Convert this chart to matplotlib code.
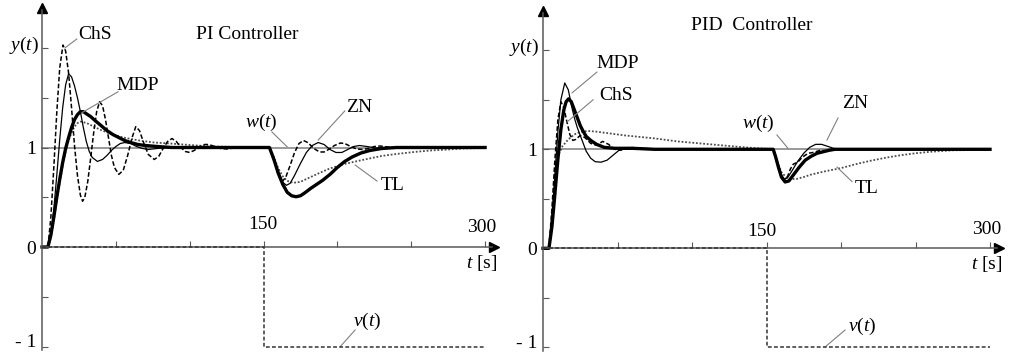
import matplotlib
matplotlib.use("Agg")
import matplotlib.pyplot as plt

plt.rcParams['font.family'] = 'Liberation Serif'
plt.rcParams['mathtext.fontset'] = 'custom'
plt.rcParams['mathtext.rm'] = 'Liberation Serif'
plt.rcParams['mathtext.it'] = 'Liberation Serif:italic'

W, H = 1011, 352

# ---------------- PI controller responses ----------------
pi_zn_t = [0, 4, 6, 8, 10, 12, 14, 16, 18, 20, 22, 24, 26, 28, 30, 32, 34, 37.5, 41, 44, 47, 50,
           53, 56, 60, 64, 68, 72, 78, 85, 154, 157, 160, 163, 165.5, 168, 171, 175, 179, 183,
           187, 191, 195, 199, 203, 207, 211, 215, 220, 226, 232, 300]
pi_zn_y = [0, 0, 0.12, 0.38, 0.72, 1.08, 1.4, 1.63, 1.74, 1.71, 1.62, 1.5, 1.36, 1.2, 1.06, 0.96, 0.9, 0.86, 0.88, 0.92, 0.97, 1.01,
           1.04, 1.05, 1.04, 1.01, 0.99, 0.98, 0.99, 1.0, 1.0, 0.9, 0.76, 0.65, 0.62, 0.64, 0.72, 0.84, 0.95, 1.02,
           1.05, 1.03, 0.98, 0.95, 0.95, 0.98, 1.01, 1.02, 1.01, 0.995, 1.0, 1.0]

pi_chs_t = [0, 4, 6, 8, 10, 12, 14.2, 16, 18, 20, 22, 24, 26, 27.5, 29, 31, 33, 35, 37, 39, 41, 43,
            45, 47, 49, 52, 55, 58, 61, 63.5, 66, 69, 72, 76, 79, 82, 85, 88, 91, 94, 97, 100,
            103, 107, 110, 113, 117, 121, 125, 130, 135, 140, 154, 157, 160, 162.5, 165, 168, 171,
            174, 177, 180, 184, 188, 191, 194, 198, 202, 205, 209, 213, 217, 221, 225, 229, 234,
            240, 250, 300]
pi_chs_y = [0, 0, 0.3, 0.8, 1.35, 1.8, 2.03, 1.97, 1.75, 1.4, 1.02, 0.72, 0.52, 0.46, 0.5, 0.66, 0.9, 1.15, 1.36, 1.46, 1.42, 1.28,
            1.1, 0.92, 0.8, 0.73, 0.77, 0.92, 1.1, 1.21, 1.17, 1.04, 0.93, 0.88, 0.91, 0.99, 1.06, 1.09, 1.06, 1.0, 0.96, 0.95,
            0.97, 1.01, 1.03, 1.03, 1.01, 0.99, 0.985, 0.995, 1.005, 1.005, 1.0, 0.88, 0.72, 0.655, 0.7, 0.82, 0.95,
            1.04, 1.07, 1.05, 0.99, 0.955, 0.955, 0.98, 1.02, 1.045, 1.04, 1.01, 0.985, 0.98, 0.99, 1.01, 1.015, 1.005,
            0.995, 1.0, 1.0]

pi_mdp_t = [0, 4, 6, 8, 10, 12, 14, 16, 18, 20, 22, 24, 26, 28, 30, 33, 36, 40, 44, 48, 52, 56,
            60, 65, 70, 78, 88, 154, 157, 160, 163, 166, 169, 172, 175, 178, 182, 186, 190, 195,
            200, 205, 210, 216, 222, 230, 240, 300]
pi_mdp_y = [0, 0, 0.12, 0.3, 0.5, 0.68, 0.85, 0.99, 1.1, 1.2, 1.28, 1.33, 1.36, 1.36, 1.34, 1.31, 1.27, 1.22, 1.17, 1.13, 1.1, 1.07,
            1.05, 1.03, 1.02, 1.01, 1.0, 1.0, 0.88, 0.74, 0.63, 0.55, 0.515, 0.505, 0.515, 0.545, 0.59, 0.63, 0.67, 0.73,
            0.8, 0.86, 0.905, 0.945, 0.97, 0.99, 1.0, 1.0]

pi_tl_t = [0, 4, 6, 8, 10, 12, 14, 16, 18, 20, 22, 24, 26, 28, 31, 35, 40, 46, 55, 66, 76, 87,
           100, 115, 130, 154, 157, 160, 163, 166, 170, 175, 180, 188, 195, 205, 217, 230, 240,
           252, 263, 275, 285, 300]
pi_tl_y = [0, 0, 0.1, 0.27, 0.46, 0.65, 0.82, 0.96, 1.07, 1.15, 1.21, 1.245, 1.26, 1.255, 1.24, 1.21, 1.175, 1.14, 1.1, 1.07, 1.05, 1.04,
           1.025, 1.01, 1.005, 1.0, 0.9, 0.79, 0.71, 0.665, 0.645, 0.655, 0.69, 0.745, 0.79, 0.835, 0.875, 0.915, 0.935,
           0.955, 0.97, 0.98, 0.99, 0.995]

# ---------------- PID controller responses ----------------
pid_zn_t = [0, 4, 6, 8, 10, 12, 14.6, 17, 19, 21, 23, 26, 29, 32, 35, 39, 43, 47, 51, 55, 60, 70,
            154.5, 156, 158, 160, 162, 164, 167, 171, 175, 179, 183, 187, 191, 195, 200, 300]
pid_zn_y = [0, 0, 0.3, 0.75, 1.18, 1.5, 1.67, 1.6, 1.45, 1.32, 1.22, 1.1, 0.98, 0.91, 0.875, 0.87, 0.89, 0.94, 0.99, 1.01, 1.01, 1.0,
            1.0, 0.93, 0.83, 0.74, 0.7, 0.71, 0.78, 0.88, 0.96, 1.02, 1.05, 1.05, 1.03, 1.01, 1.0, 1.0]

pid_chs_t = [0, 4, 6, 8, 10, 12, 14, 16, 18, 20, 22, 25, 28, 32, 36, 40, 44, 48, 52, 58, 65, 80,
             154.5, 156, 158, 160, 162, 164, 166, 168, 171, 174, 178, 182, 186, 190, 195, 300]
pid_chs_y = [0, 0, 0.4, 0.9, 1.3, 1.48, 1.42, 1.28, 1.15, 1.09, 1.1, 1.14, 1.12, 1.06, 1.04, 1.08, 1.05, 1.0, 0.99, 1.02, 1.01, 1.0,
             1.0, 0.92, 0.81, 0.72, 0.69, 0.72, 0.8, 0.85, 0.87, 0.92, 0.96, 0.97, 0.99, 0.985, 1.0, 1.0]

pid_mdp_t = [0, 4, 6, 8, 10, 12, 14, 15.5, 17.2, 19, 21, 23, 25, 27, 29, 32, 36, 41, 48, 60, 75,
             154.5, 156, 158, 160, 162.5, 165, 168, 172, 176, 180, 184, 188, 192, 196, 300]
pid_mdp_y = [0, 0, 0.22, 0.55, 0.9, 1.2, 1.4, 1.48, 1.51, 1.48, 1.4, 1.32, 1.24, 1.18, 1.13, 1.09, 1.05, 1.02, 1.01, 1.01, 1.0,
             1.0, 0.93, 0.82, 0.72, 0.67, 0.68, 0.74, 0.82, 0.89, 0.93, 0.96, 0.975, 0.99, 1.0, 1.0]

pid_tl_t = [0, 4, 6, 8, 10, 13, 17, 21, 25, 30, 35, 45, 55, 65, 75, 90, 105, 120, 135, 150,
            154.5, 156, 158, 160, 163, 166, 170, 175, 180, 190, 200, 210, 220, 230, 240, 250,
            260, 275, 300]
pid_tl_y = [0, 0, 0.35, 0.72, 0.93, 1.03, 1.1, 1.15, 1.175, 1.185, 1.18, 1.16, 1.14, 1.125, 1.11, 1.08, 1.06, 1.04, 1.02, 1.005,
            1.0, 0.93, 0.84, 0.77, 0.72, 0.7, 0.7, 0.72, 0.745, 0.78, 0.81, 0.85, 0.885, 0.915, 0.94, 0.96,
            0.975, 0.99, 0.995]

# reference w(t) and disturbance v(t)
w_t = [0, 300]
w_y = [1, 1]
v_t = [0, 150, 150, 300]
v_y = [0, 0, -1, -1]

x_ticks = [50, 100, 150, 200, 250, 300]
y_ticks = [-1, -0.5, 0, 0.5, 1, 1.5, 2]
y_ticklabels = ['', '', '0', '', '1', '', '']

XLIM = (-25, 312)
YLIM = (-1.04, 2.46)
FS = 14


def panel_rect(x0, sx, y0, sy):
    # axes box in figure fractions from the pixel position of the origin and scale
    left = x0 + XLIM[0] * sx
    right = x0 + XLIM[1] * sx
    top = y0 - YLIM[1] * sy
    bottom = y0 - YLIM[0] * sy
    return [left / W, 1 - bottom / H, (right - left) / W, (bottom - top) / H]


def draw_panel(ax, zn, chs, mdp, tl, title, title_xy, labels):
    ax.set_xlim(XLIM)
    ax.set_ylim(YLIM)
    ax.patch.set_alpha(0)
    for s in ['top', 'right']:
        ax.spines[s].set_visible(False)
    for s in ['left', 'bottom']:
        ax.spines[s].set_position(('data', 0))
        ax.spines[s].set_color('0.35')
        ax.spines[s].set_linewidth(1.1)
    ax.spines['left'].set_bounds(-1.04, 2.38)
    ax.spines['bottom'].set_bounds(0, 305)
    ax.plot(0, 2.40, '^', color='k', ms=7, clip_on=False)
    ax.plot(306, 0, '>', color='k', ms=7, clip_on=False)

    ax.set_xticks(x_ticks)
    ax.set_xticklabels([])
    ax.tick_params(axis='x', direction='in', length=4, color='0.35')
    ax.set_yticks(y_ticks)
    ax.set_yticklabels(y_ticklabels, fontsize=FS)
    ax.tick_params(axis='y', direction='in', length=4, color='0.35', pad=4)
    # bottom label sits right at the figure edge, so it is placed on its baseline
    ax.text(-3.8, -1.005, '- 1', fontsize=FS, ha='right', va='baseline')

    ax.plot(w_t, w_y, color='0.6', lw=1.4, zorder=1)
    ax.plot(v_t, v_y, color='0.2', lw=1.1, ls=(0, (2.5, 1.5)), zorder=3)
    ax.plot(tl[0], tl[1], color='0.3', lw=1.3, ls=(0, (1, 1)))
    ax.plot(chs[0], chs[1], color='k', lw=1.1, ls=(0, (3, 1.5)))
    ax.plot(zn[0], zn[1], color='k', lw=0.9)
    ax.plot(mdp[0], mdp[1], color='k', lw=2.4)

    ax.text(title_xy[0], title_xy[1], title, fontsize=FS, ha='center', va='center')
    ax.text(-12.5, 2.03, '$y(t)$', fontsize=FS, ha='center', va='center')
    ax.text(XLIM[1] - 14, -0.16, '$t$ [s]', fontsize=FS, ha='center', va='center')
    for txt, pos, p1, p2 in labels:
        ax.text(pos[0], pos[1], txt, fontsize=FS, ha='center', va='center')
        if p1 is not None:
            ax.plot([p1[0], p2[0]], [p1[1], p2[1]], color='0.5', lw=0.8)


fig = plt.figure(figsize=(W / 100, H / 100), dpi=100)

ax1 = fig.add_axes(panel_rect(42, 1.477, 247, 99.5))
draw_panel(ax1, (pi_zn_t, pi_zn_y), (pi_chs_t, pi_chs_y), (pi_mdp_t, pi_mdp_y), (pi_tl_t, pi_tl_y),
           'PI Controller', (138.8, 2.14),
           [('ChS', (36, 2.14), (23.5, 2.09), (15.5, 2.0)),
            ('MDP', (65, 1.62), (51.5, 1.56), (27, 1.35)),
            ('$w(t)$', (148.3, 1.256), (155.7, 1.156), (165.9, 1.008)),
            ('ZN', (214.6, 1.407), (205, 1.367), (187, 1.075)),
            ('TL', (237.6, 0.623), (226.8, 0.663), (212, 0.824)),
            ('$v(t)$', (220, -0.744), (212, -0.834), (202, -1.0)),
            ('150', (149.6, 0.23), None, None),
            ('300', (298, 0.2), None, None)])

ax2 = fig.add_axes(panel_rect(543, 1.49, 248.3, 99))
draw_panel(ax2, (pid_zn_t, pid_zn_y), (pid_chs_t, pid_chs_y), (pid_mdp_t, pid_mdp_y), (pid_tl_t, pid_tl_y),
           'PID  Controller', (140.3, 2.255),
           [('MDP', (50.3, 1.87), (36.2, 1.78), (19.5, 1.57)),
            ('ChS', (49, 1.54), (33.6, 1.5), (16.1, 1.276)),
            ('$w(t)$', (144.3, 1.265), (157, 1.145), (164.4, 1.01)),
            ('ZN', (209.4, 1.467), (198, 1.316), (190.6, 1.094)),
            ('TL', (217.4, 0.609), (207.4, 0.674), (197.3, 0.82)),
            ('$v(t)$', (214, -0.785), (202.7, -0.826), (189.3, -0.997)),
            ('150', (147, 0.17), None, None),
            ('300', (298, 0.19), None, None)])

fig.savefig('out.png', dpi=100)
